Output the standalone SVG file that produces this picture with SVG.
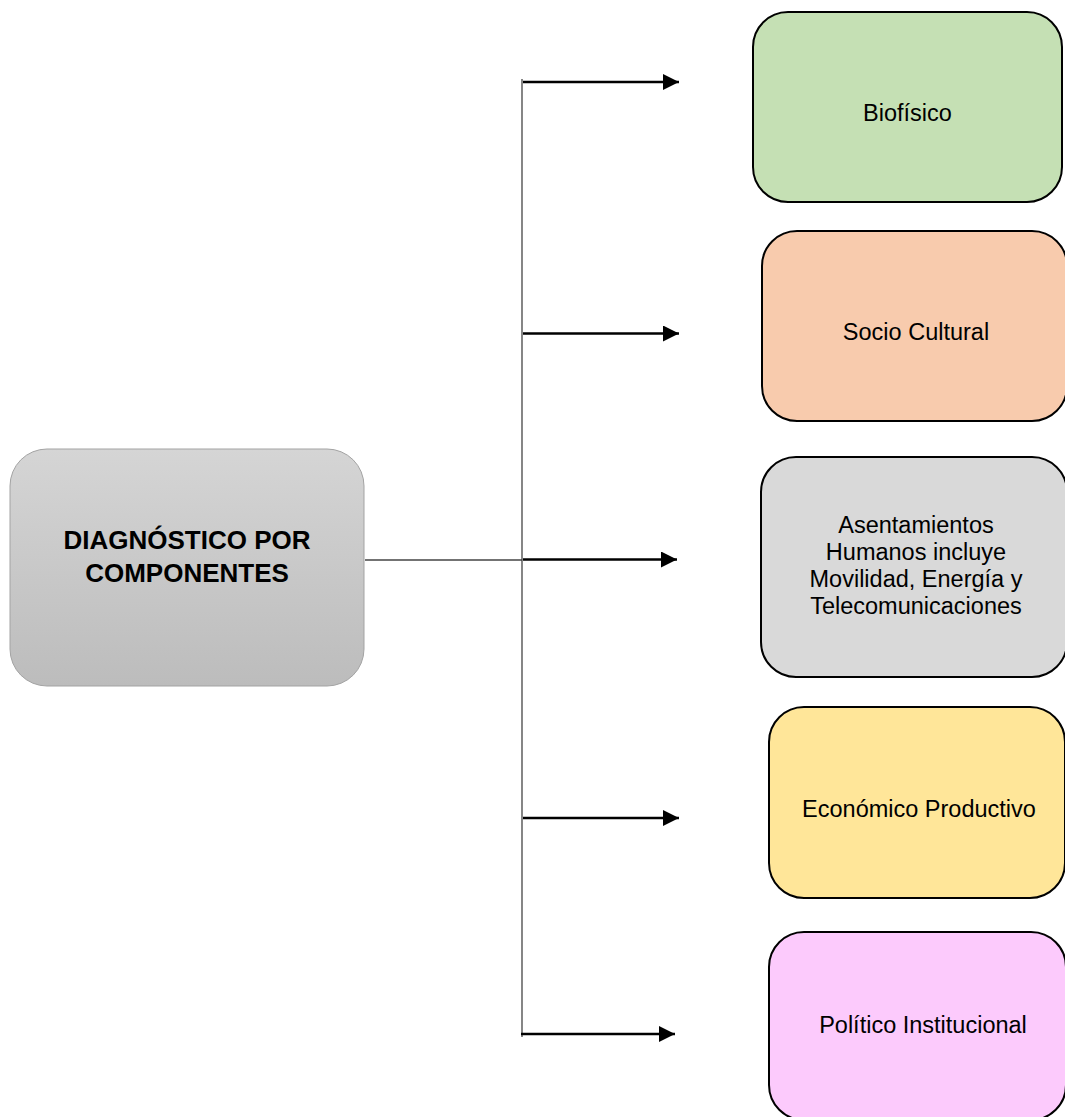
<svg xmlns="http://www.w3.org/2000/svg" width="1065" height="1117" viewBox="0 0 1065 1117">
<style>
.box{stroke:#000;stroke-width:2}
.lbl{font-family:"Liberation Sans",Arial,sans-serif;font-size:23.5px;fill:#000;text-anchor:middle}
.main{font-family:"Liberation Sans",Arial,sans-serif;font-size:26px;font-weight:bold;fill:#000;text-anchor:middle}
.arrow{stroke:#000;stroke-width:2.6;fill:none;marker-end:url(#ah)}
.thin{stroke:#444;stroke-width:1.3;fill:none}
</style>
<defs>
<linearGradient id="g" x1="0" y1="0" x2="0" y2="1">
<stop offset="0" stop-color="#D5D5D5"/>
<stop offset="1" stop-color="#BCBCBC"/>
</linearGradient>
<marker id="ah" markerUnits="userSpaceOnUse" markerWidth="16" markerHeight="16" refX="16" refY="8" orient="auto">
<path d="M0,0 L16,8 L0,16 Z" fill="#000"/>
</marker>
</defs>
<rect width="1065" height="1117" fill="#fff"/>
<g id="connectors">
<line class="thin" x1="522" y1="79" x2="522" y2="1037"/>
<line class="thin" x1="365" y1="560" x2="522" y2="560"/>
<line class="arrow" x1="523" y1="82" x2="679" y2="82"/>
<line class="arrow" x1="523" y1="333.5" x2="679" y2="333.5"/>
<line class="arrow" x1="523" y1="559.5" x2="677" y2="559.5"/>
<line class="arrow" x1="523" y1="818" x2="679" y2="818"/>
<line class="arrow" x1="521" y1="1034" x2="675" y2="1034"/>
</g>
<g id="n-main">
<rect x="10" y="449" width="354" height="237" rx="37" fill="url(#g)" stroke="#A3A3A3" stroke-width="1"/>
<text class="main" x="187" y="549">DIAGNÓSTICO POR</text>
<text class="main" x="187" y="582">COMPONENTES</text>
</g>
<g id="n-biofisico">
<rect class="box" x="753" y="12" width="309" height="190" rx="35" fill="#C5E0B4"/>
<text class="lbl" x="907.5" y="121">Biofísico</text>
</g>
<g id="n-socio">
<rect class="box" x="762" y="231" width="305" height="190" rx="35" fill="#F8CBAD"/>
<text class="lbl" x="916" y="340">Socio Cultural</text>
</g>
<g id="n-asent">
<rect class="box" x="761" y="457" width="306" height="220" rx="35" fill="#D9D9D9"/>
<text class="lbl" x="916" y="533">Asentamientos</text>
<text class="lbl" x="916" y="560">Humanos incluye</text>
<text class="lbl" x="916" y="587">Movilidad, Energía y</text>
<text class="lbl" x="916" y="614">Telecomunicaciones</text>
</g>
<g id="n-economico">
<rect class="box" x="769" y="707" width="296" height="191" rx="35" fill="#FFE699"/>
<text class="lbl" x="919" y="817">Económico Productivo</text>
</g>
<g id="n-politico">
<rect class="box" x="769" y="932" width="297" height="188" rx="35" fill="#FCCAFC"/>
<text class="lbl" x="923" y="1033">Político Institucional</text>
</g>
</svg>
